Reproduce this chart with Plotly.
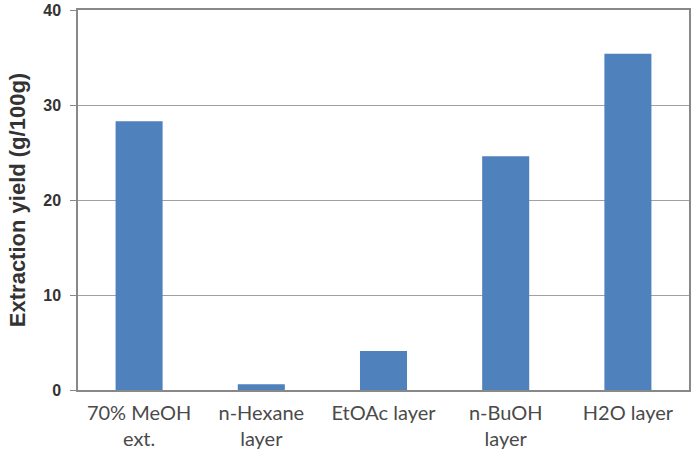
import plotly.graph_objects as go

categories = ["70% MeOH<br>ext.", "n-Hexane<br>layer", "EtOAc layer", "n-BuOH<br>layer", "H2O layer"]
values = [28.3, 0.6, 4.1, 24.6, 35.4]
y_ticks = [0, 10, 20, 30, 40]

fig = go.Figure(go.Bar(x=categories, y=values, marker=dict(color="#4F81BD", line=dict(width=0)), width=0.385))

fig.update_layout(
    width=697, height=455,
    margin=dict(l=78, r=8, t=10, b=65),
    paper_bgcolor="white", plot_bgcolor="white",
    showlegend=False,
    xaxis=dict(
        automargin=False,
        showline=True, linecolor="#888888", linewidth=1.5, mirror=True,
        tickfont=dict(family="Lato", size=20, color="#4a4a4a"),
        ticks="", showgrid=False, ticklabelstandoff=4,
    ),
    yaxis=dict(
        automargin=False,
        range=[0, 40], tickvals=y_ticks,
        showline=True, linecolor="#888888", linewidth=1.5, mirror=True,
        showgrid=True, gridcolor="#a0a0a0", gridwidth=1,
        ticks="outside", ticklen=6, tickcolor="#888888",
        tickfont=dict(family="Liberation Sans", size=16, color="#333333", weight="bold"),
        ticklabelstandoff=6,
        title=dict(text="Extraction yield (g/100g)", font=dict(family="Liberation Sans", size=22, color="#333333", weight="bold"), standoff=12),
        zeroline=False,
    ),
)

fig.write_html("out.html")
